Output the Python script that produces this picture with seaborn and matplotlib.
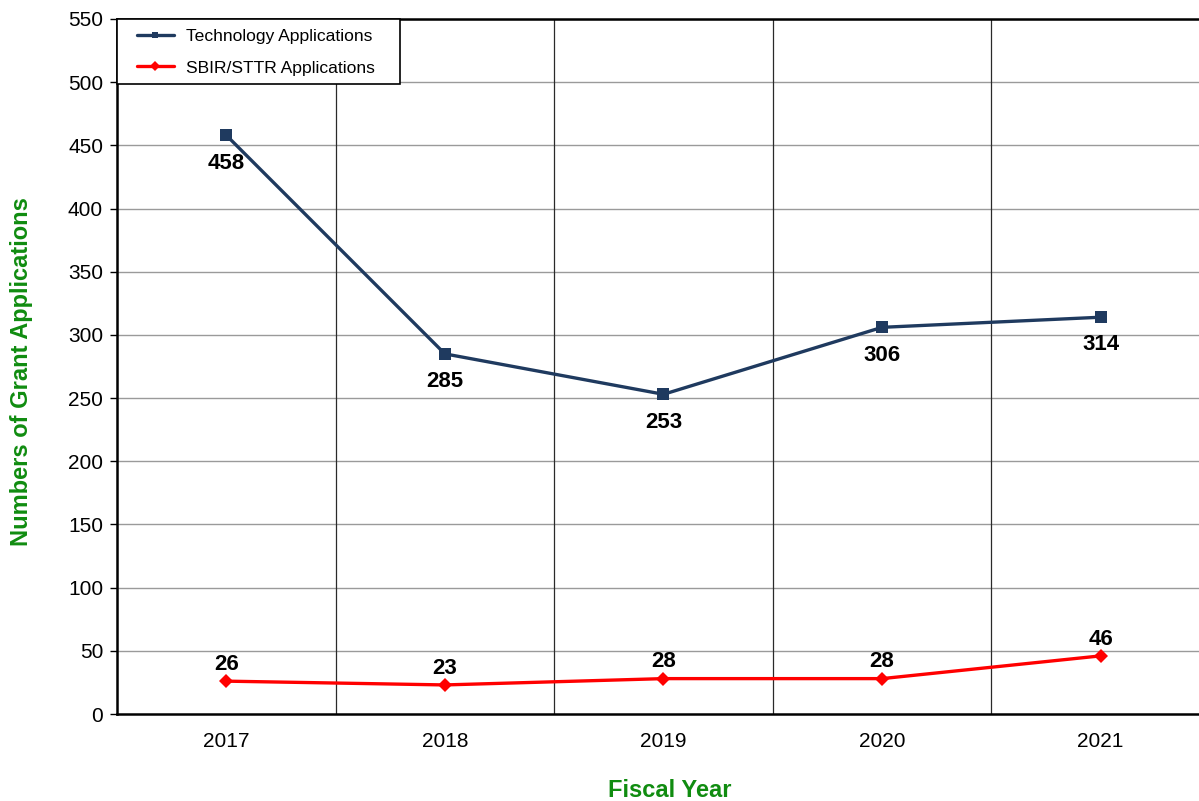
import matplotlib
matplotlib.use("Agg")
import matplotlib.pyplot as plt
from matplotlib.patches import Rectangle
import seaborn as sns
import pandas as pd

years = ["2017", "2018", "2019", "2020", "2021"]
technology_apps = [458, 285, 253, 306, 314]
sbir_sttr_apps = [26, 23, 28, 28, 46]
y_ticks = [0, 50, 100, 150, 200, 250, 300, 350, 400, 450, 500, 550]

sns.set_theme(style="white")
plt.rcParams["font.family"] = ["Liberation Sans", "DejaVu Sans"]
plt.rcParams["text.color"] = "black"
plt.rcParams["xtick.color"] = "black"
plt.rcParams["ytick.color"] = "black"

navy = "#1F3A5F"
red = "#FF0000"
green = "#108C10"

W, H = 1199, 801
AX_L, AX_T, AX_B = 117, 19, 714
fig = plt.figure(figsize=(W / 100, H / 100), dpi=100)
ax = fig.add_axes([AX_L / W, 1 - AX_B / H, (W - AX_L) / W, (AX_B - AX_T) / H])
ax_w, ax_h = W - AX_L, AX_B - AX_T

x = list(range(len(years)))
tech_df = pd.DataFrame({"x": x, "value": technology_apps})
sbir_df = pd.DataFrame({"x": x, "value": sbir_sttr_apps})

sns.lineplot(data=tech_df, x="x", y="value", ax=ax, color=navy, linewidth=2.4,
             marker="s", markersize=8.5, markeredgewidth=0,
             label="Technology Applications")
sns.lineplot(data=sbir_df, x="x", y="value", ax=ax, color=red, linewidth=2.4,
             marker="D", markersize=7.5, markeredgewidth=0,
             label="SBIR/STTR Applications")

# value labels: below the technology points, above the SBIR/STTR points
for xi, v in zip(x, technology_apps):
    ax.annotate(str(v), (xi, v), xytext=(0, -20), textcoords="offset points",
                ha="center", va="center", fontsize=16, fontweight="bold", color="black")
for xi, v in zip(x, sbir_sttr_apps):
    ax.annotate(str(v), (xi, v), xytext=(0, 12), textcoords="offset points",
                ha="center", va="center", fontsize=16, fontweight="bold", color="black")

ax.set_xlim(-0.5, 4.45)
ax.set_ylim(0, 550)
ax.set_yticks(y_ticks)
ax.set_xticks(x)
ax.set_xticklabels(years)
ax.tick_params(axis="y", which="major", length=5, width=1, color="black",
               labelsize=15, pad=5, direction="out", left=True, labelcolor="black")
ax.tick_params(axis="x", which="major", length=0, labelsize=15, pad=13,
               labelcolor="black")

# horizontal value grid and vertical separators between fiscal years
for t in y_ticks[1:]:
    ax.axhline(t, color="#9A9A9A", linewidth=1.0, zorder=0)
for b in [0.5, 1.5, 2.5, 3.5]:
    ax.axvline(b, color="#2A2A2A", linewidth=0.9, zorder=0)

for side in ["left", "bottom", "top"]:
    ax.spines[side].set_visible(True)
    ax.spines[side].set_color("black")
    ax.spines[side].set_linewidth(1.8)
ax.spines["right"].set_visible(False)

ax.set_xlabel("Fiscal Year", fontsize=17, fontweight="bold", color=green)
ax.set_ylabel("Numbers of Grant Applications", fontsize=17, fontweight="bold",
              color=green)
ax.xaxis.set_label_coords((670 - AX_L) / ax_w, (AX_B - 797) / ax_h)
ax.xaxis.label.set_va("baseline")
ax.yaxis.set_label_coords((22 - AX_L) / ax_w, (AX_B - 372) / ax_h)
ax.yaxis.label.set_va("center")

# legend box in the upper-left corner of the plot area
frame = Rectangle((0, (AX_B - 84) / ax_h), (400 - AX_L) / ax_w, (84 - AX_T) / ax_h,
                  transform=ax.transAxes, facecolor="white", edgecolor="black",
                  linewidth=1.2, zorder=4, clip_on=False)
ax.add_patch(frame)
leg = ax.legend(loc="upper left",
                bbox_to_anchor=((137 - AX_L) / ax_w, (AX_B - 29) / ax_h),
                borderaxespad=0, borderpad=0, frameon=False,
                fontsize=12.6, handlelength=2.1, labelspacing=0.92,
                handletextpad=0.7)
leg.set_zorder(5)
for h in leg.legend_handles:
    h.set_markersize(5)
    h.set_linewidth(2.4)
for txt in leg.get_texts():
    txt.set_color("black")

fig.savefig("out.png", dpi=100)
